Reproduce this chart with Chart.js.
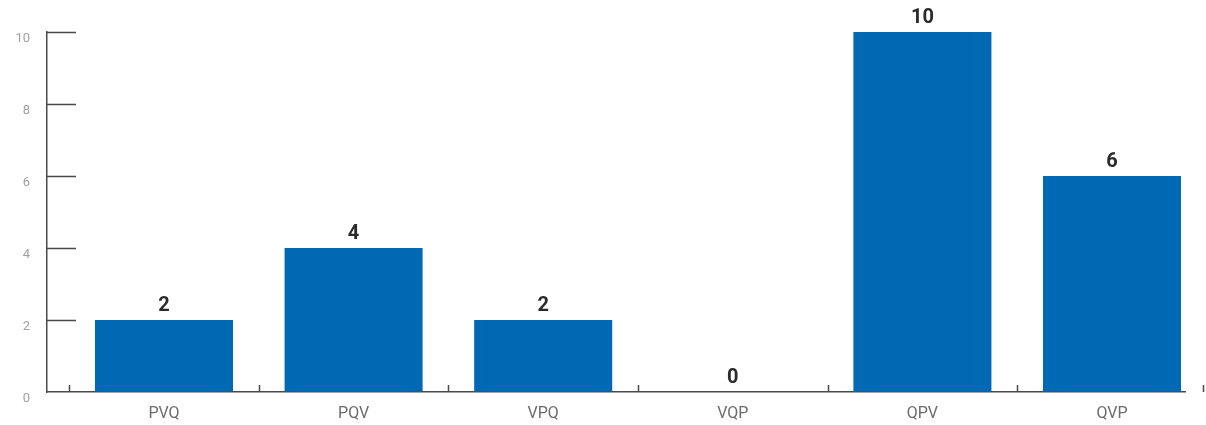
<!DOCTYPE html>
<html>
<head>
<meta charset="utf-8">
<script src="https://cdn.jsdelivr.net/npm/chart.js@4/dist/chart.umd.min.js"></script>
<style>
  html, body { margin: 0; padding: 0; background: #fff; }
  #wrap { width: 1206px; height: 425px; }
</style>
</head>
<body>
<div id="wrap"><canvas id="chart" width="1206" height="425"></canvas></div>
<script>
const categories = ['PVQ', 'PQV', 'VPQ', 'VQP', 'QPV', 'QVP'];
const counts = [2, 4, 2, 0, 10, 6];
const yTicks = [0, 2, 4, 6, 8, 10];

const barColor = '#0069b4';
const axisColor = '#4a4a4a';

// short tick marks drawn inside the plot, from the scales
const innerTicks = {
  id: 'innerTicks',
  afterDraw(chart) {
    const ctx = chart.ctx;
    const x = chart.scales.x;
    const y = chart.scales.y;
    const base = y.getPixelForValue(0);
    const left = x.left;
    ctx.save();
    ctx.strokeStyle = axisColor;
    ctx.lineWidth = 1.5;
    ctx.beginPath();
    for (let i = 0; i <= categories.length; i++) {
      const px = Math.min(Math.round(x.getPixelForValue(i - 0.5)), 1203) + 0.5;
      ctx.moveTo(px, base);
      ctx.lineTo(px, base - 7);
    }
    yTicks.forEach(function(v) {
      if (v === 0) return;
      const py = Math.round(y.getPixelForValue(v)) + 0.5;
      ctx.moveTo(left, py);
      ctx.lineTo(left + 29, py);
    });
    ctx.stroke();
    ctx.restore();
  }
};

// value labels on top of each bar
const valueLabels = {
  id: 'valueLabels',
  afterDatasetsDraw(chart) {
    const ctx = chart.ctx;
    const meta = chart.getDatasetMeta(0);
    ctx.save();
    ctx.font = 'bold 20px Roboto';
    ctx.fillStyle = '#2b2b2b';
    ctx.textAlign = 'center';
    ctx.textBaseline = 'bottom';
    meta.data.forEach(function(bar, i) {
      ctx.fillText(String(counts[i]), bar.x, bar.y - 4);
    });
    ctx.restore();
  }
};

new Chart(document.getElementById('chart'), {
  type: 'bar',
  data: {
    datasets: [{
      data: counts.map((v, i) => ({ x: i, y: v })),
      backgroundColor: barColor,
      borderWidth: 0,
      categoryPercentage: 1,
      barPercentage: 0.728
    }]
  },
  options: {
    responsive: false,
    animation: false,
    layout: { padding: { top: 32, right: 21, left: 0, bottom: 0 } },
    plugins: { legend: { display: false }, tooltip: { enabled: false } },
    scales: {
      x: {
        type: 'linear',
        offset: false,
        min: -0.617,
        max: 5.385,
        afterBuildTicks(scale) {
          scale.ticks = categories.map((c, i) => ({ value: i }));
        },
        afterFit(scale) { scale.height = 33; },
        ticks: {
          autoSkip: false,
          maxRotation: 0,
          padding: 12,
          color: '#6b6b6b',
          font: { family: 'Roboto', size: 16 },
          callback: (v) => categories[v]
        },
        grid: { display: true, offset: false, drawOnChartArea: false, drawTicks: false },
        border: { color: axisColor, width: 1.5 }
      },
      y: {
        min: 0,
        max: 10,
        afterBuildTicks(scale) {
          scale.ticks = yTicks.map(v => ({ value: v }));
        },
        afterFit(scale) { scale.width = 47; },
        ticks: {
          padding: 17,
          labelOffset: 7,
          color: '#a0a0a0',
          font: { family: 'Roboto', size: 13 }
        },
        grid: { display: true, drawOnChartArea: false, drawTicks: false },
        border: { color: axisColor, width: 1.5 }
      }
    }
  },
  plugins: [innerTicks, valueLabels]
});
</script>
</body>
</html>
